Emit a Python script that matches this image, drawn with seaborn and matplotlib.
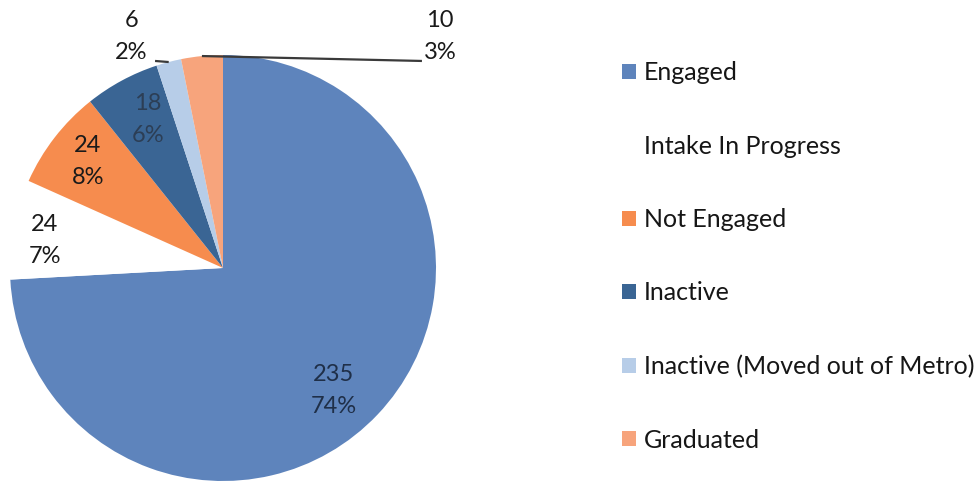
import matplotlib
matplotlib.use("Agg")
import matplotlib.pyplot as plt
import seaborn as sns
import numpy as np

# Participant status breakdown
categories = ["Engaged", "Intake In Progress", "Not Engaged", "Inactive",
              "Inactive (Moved out of Metro)", "Graduated"]
counts = [235, 24, 24, 18, 6, 10]
pct_labels = ["74%", "7%", "8%", "6%", "2%", "3%"]
colors = ["#5E84BC", "#FFFFFF", "#F68C4E", "#3A6594", "#B7CDE8", "#F7A47C"]

sns.set_theme(style="white")
plt.rcParams["font.family"] = ["Lato", "DejaVu Sans"]

W, H = 979, 484
fig = plt.figure(figsize=(W / 100, H / 100), dpi=100)
fig.patch.set_facecolor("white")

# pie centre and radius in pixels
cx, cy, r = 223, 268, 213
ax = fig.add_axes([(cx - r) / W, (H - cy - r) / H, 2 * r / W, 2 * r / H])
wedges, _ = ax.pie(counts, colors=colors, startangle=90, counterclock=False,
                   wedgeprops=dict(linewidth=0))
ax.set_xlim(-1, 1)
ax.set_ylim(-1, 1)
ax.set_aspect("equal")
ax.axis("off")

# label block centres (data units of the pie) and text colours
label_pos = [(0.519, -0.577), (-0.836, 0.131), (-0.634, 0.498),
             (-0.354, 0.695), (-0.430, 1.085), (1.019, 1.085)]
label_col = ["#1f2f48", "#1a1a1a", "#1a1a1a", "#2c3e55", "#1a1a1a", "#1a1a1a"]
for i, (cnt, pct) in enumerate(zip(counts, pct_labels)):
    x, y = label_pos[i]
    ax.text(x, y, f"{cnt}\n{pct}", ha="center", va="center", fontsize=17,
            color=label_col[i], linespacing=1.65)

# leader lines for the two thin slices
leader_end = {4: (-0.319, 0.972), 5: (0.934, 0.972)}
for i, end in leader_end.items():
    w = wedges[i]
    mid = np.deg2rad((w.theta1 + w.theta2) / 2)
    ax.plot([np.cos(mid), end[0]], [np.sin(mid), end[1]], color="#3a3a3a",
            lw=1.6, clip_on=False, solid_capstyle="butt")

fig.legend(handles=wedges, labels=categories, loc="upper left",
           bbox_to_anchor=(622 / W, 1 - 61 / H), frameon=False, fontsize=18,
           handlelength=0.55, handleheight=0.55, handletextpad=0.32,
           labelspacing=2.02, borderpad=0, borderaxespad=0,
           labelcolor="#161616")

fig.savefig("out.png", dpi=100, facecolor="white")
